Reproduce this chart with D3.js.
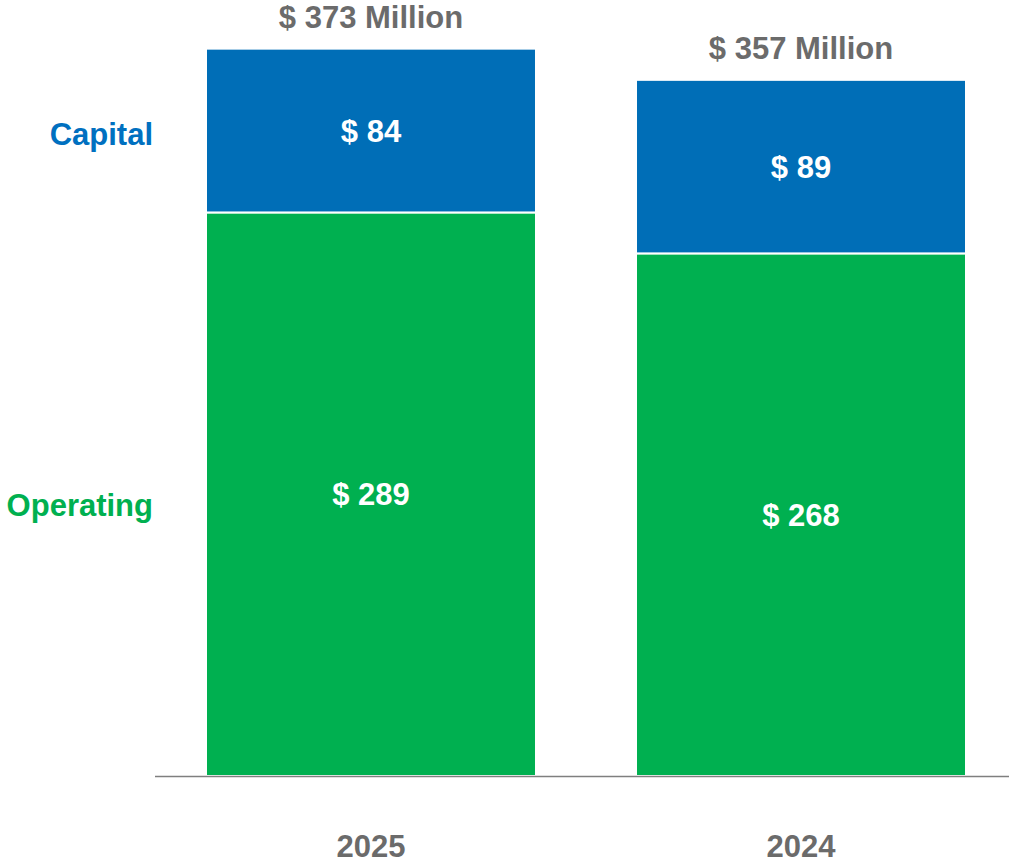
<!DOCTYPE html>
<html>
<head>
<meta charset="utf-8">
<script src="https://cdn.jsdelivr.net/npm/d3@7"></script>
<style>
  body { margin: 0; background: #fff; }
  text { font-family: "Liberation Sans", Arial, sans-serif; font-weight: bold; }
</style>
</head>
<body>
<script>
var years = ["2025", "2024"];
var series = ["Operating", "Capital"];
var operating = [289, 268];
var capital = [84, 89];
var totals = [373, 357];

var width = 1009; // canvas
var height = 864;
var baseY = 776;

const color = {
    "Operating": "#00b050",
    "Capital": "#006eb7"
};
const labelColor = {
    "Operating": "#00b050",
    "Capital": "#0070c0"
};

var svg = d3.select("body").append("svg")
    .attr("width", width)
    .attr("height", height);

var xScale = d3.scaleBand()
    .domain(years)
    .range([206, 966])
    .paddingInner(0.2326)
    .paddingOuter(0);

var yScale = d3.scaleLinear()
    .domain([0, 400])
    .range([baseY, baseY - 780]);

// build stack table
var table = years.map(function(y, i) {
    return { year: y, Operating: operating[i], Capital: capital[i], total: totals[i] };
});
var stacked = d3.stack().keys(series)(table);

var layers = svg.selectAll(".layer")
    .data(stacked)
  .enter().append("g")
    .attr("class", "layer")
    .attr("fill", function(d) { return color[d.key]; });

layers.selectAll("rect")
    .data(function(d) { return d; })
  .enter().append("rect")
    .attr("x", function(d) { return xScale(d.data.year); })
    .attr("width", xScale.bandwidth())
    .attr("y", function(d) { return yScale(d[1]); })
    .attr("height", function(d) { return yScale(d[0]) - yScale(d[1]); })
    .attr("stroke", "#fff")
    .attr("stroke-width", 2);

// value labels inside segments
layers.selectAll("text")
    .data(function(d) { return d; })
  .enter().append("text")
    .attr("x", function(d) { return xScale(d.data.year) + xScale.bandwidth() / 2; })
    .attr("y", function(d) { return (yScale(d[0]) + yScale(d[1])) / 2 + 11; })
    .attr("text-anchor", "middle")
    .attr("fill", "#fff")
    .style("font-size", "31px")
    .text(function(d) { return "$ " + (d[1] - d[0]); });

// totals above bars
svg.selectAll(".total")
    .data(table)
  .enter().append("text")
    .attr("class", "total")
    .attr("x", function(d) { return xScale(d.year) + xScale.bandwidth() / 2; })
    .attr("y", function(d) { return yScale(d.total) - 21; })
    .attr("text-anchor", "middle")
    .attr("fill", "#6b6b6b")
    .style("font-size", "31px")
    .text(function(d) { return "$ " + d.total + " Million"; });

// baseline
svg.append("line")
    .attr("x1", 155).attr("x2", width)
    .attr("y1", baseY + 0.5).attr("y2", baseY + 0.5)
    .attr("stroke", "#7f7f7f")
    .attr("stroke-width", 1.5);

// category axis labels
var xAxis = svg.append("g")
    .attr("transform", "translate(0," + baseY + ")")
    .call(d3.axisBottom(xScale).tickSize(0));
xAxis.select(".domain").remove();
xAxis.selectAll("text")
    .attr("y", 81)
    .attr("dy", 0)
    .attr("fill", "#6b6b6b")
    .style("font-size", "31px")
    .style("font-family", "Liberation Sans, Arial, sans-serif")
    .style("font-weight", "bold");

// series labels on the left
svg.selectAll(".series-label")
    .data(stacked)
  .enter().append("text")
    .attr("class", "series-label")
    .attr("x", 153)
    .attr("y", function(d) {
        var s = d[0];
        return (yScale(s[0]) + yScale(s[1])) / 2 + (d.key === "Operating" ? 22 : 14.5);
    })
    .attr("text-anchor", "end")
    .attr("fill", function(d) { return labelColor[d.key]; })
    .style("font-size", "31px")
    .text(function(d) { return d.key; });
</script>
</body>
</html>
